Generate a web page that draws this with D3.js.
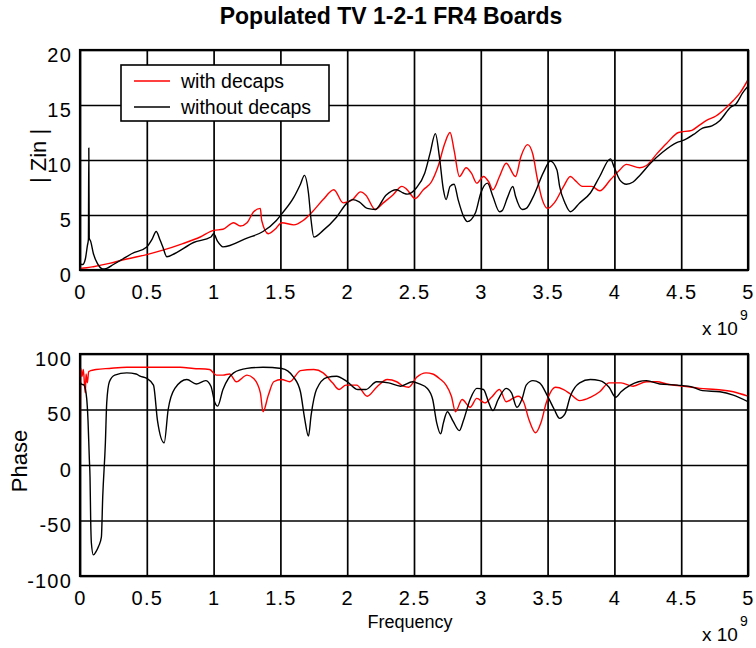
<!DOCTYPE html>
<html>
<head>
<meta charset="utf-8">
<script src="https://cdn.jsdelivr.net/npm/d3@7"></script>
<style>
  html, body { margin: 0; padding: 0; background: #fff; }
  svg { display: block; font-family: "Liberation Sans", Arial, Helvetica, sans-serif; }
</style>
</head>
<body>
<svg id="chart" width="756" height="648"></svg>
<script>
// Frequencies are in units of 1e9 Hz (the axes carry an "x 10^9" multiplier).
const xTicks = [0, 0.5, 1, 1.5, 2, 2.5, 3, 3.5, 4, 4.5, 5];
const zinTicks = [0, 5, 10, 15, 20];
const phaseTicks = [-100, -50, 0, 50, 100];
const seriesNames = ["with decaps", "without decaps"];
const seriesColors = ["#ff0000", "#000000"];

// |Zin| with decaps
const zinFreqWith = [0,0.05,0.1,0.22,0.35,0.5,0.62,0.77,0.9,1.0,1.07,1.15,1.2,1.25,1.3,1.35,1.36,1.41,1.46,1.51,1.6,1.67,1.74,1.82,1.9,1.97,2.04,2.1,2.14,2.21,2.27,2.34,2.41,2.44,2.51,2.57,2.63,2.68,2.73,2.77,2.8,2.84,2.89,2.93,2.97,3.02,3.06,3.09,3.14,3.19,3.26,3.3,3.35,3.39,3.42,3.46,3.5,3.55,3.62,3.67,3.71,3.76,3.83,3.89,3.97,4.04,4.09,4.19,4.24,4.32,4.39,4.48,4.58,4.64,4.69,4.76,4.84,4.89,4.94,5.0];
const zinWith = [0.15,0.2,0.3,0.6,1.0,1.4,1.8,2.4,3.0,3.6,3.7,4.3,4.0,4.3,5.3,5.6,4.5,3.3,3.7,4.3,4.1,4.5,5.3,6.4,7.3,6.1,6.4,7.1,6.8,5.5,6.1,6.8,7.6,7.4,6.5,7.3,8.0,9.4,11.5,12.5,10.9,8.5,9.3,8.8,7.9,8.5,8.0,7.3,8.5,9.7,8.5,10.3,11.4,10.5,8.5,6.4,5.6,6.1,7.6,8.5,8.1,7.6,7.6,7.2,8.2,9.1,9.6,9.3,9.5,10.6,11.5,12.5,12.7,13.2,13.6,14.0,14.8,15.4,16.1,17.3];

// |Zin| without decaps
const zinFreqWithout = [0,0.02,0.04,0.055,0.063,0.066,0.069,0.08,0.1,0.13,0.17,0.2,0.25,0.32,0.39,0.5,0.54,0.57,0.6,0.62,0.65,0.71,0.85,0.98,1.0,1.03,1.07,1.25,1.37,1.47,1.51,1.6,1.65,1.68,1.71,1.73,1.75,1.82,1.92,2.0,2.04,2.09,2.15,2.21,2.29,2.37,2.42,2.45,2.52,2.58,2.62,2.66,2.69,2.72,2.74,2.77,2.8,2.83,2.87,2.9,2.96,3.0,3.05,3.09,3.14,3.16,3.2,3.24,3.26,3.31,3.34,3.39,3.47,3.52,3.57,3.59,3.63,3.67,3.74,3.82,3.89,3.97,4.0,4.04,4.09,4.14,4.19,4.27,4.36,4.47,4.52,4.59,4.66,4.73,4.79,4.87,4.91,4.96,5.0];
const zinWithout = [0.55,0.5,1.0,2.2,2.8,11.1,2.9,2.6,1.5,0.6,0.1,0.15,0.5,1.0,1.5,2.1,2.8,3.5,2.7,2.1,1.2,1.5,2.5,3.0,3.3,2.6,2.1,2.9,3.5,4.5,5.1,6.6,7.8,8.6,7.0,4.5,3.0,3.6,4.8,6.1,6.4,6.2,5.6,5.5,6.8,7.3,7.0,6.9,7.5,8.8,10.6,12.4,10.3,7.3,6.4,7.6,7.8,6.4,4.9,4.4,5.2,7.0,7.9,6.7,5.3,5.4,6.6,7.6,6.7,5.5,5.6,6.6,8.9,9.9,9.1,7.6,6.1,5.3,6.1,7.0,8.5,10.1,9.3,8.2,7.8,8.0,8.6,9.7,10.7,11.6,11.8,12.3,12.9,13.1,13.6,14.8,15.1,16.1,16.7];

// Phase with decaps
const phaseFreqWith = [0,0.006,0.015,0.025,0.035,0.04,0.045,0.055,0.065,0.08,0.12,0.22,0.35,0.5,0.6,0.75,0.85,0.97,1.02,1.07,1.12,1.17,1.25,1.3,1.35,1.37,1.41,1.45,1.51,1.57,1.65,1.75,1.82,1.89,1.94,1.99,2.07,2.15,2.22,2.3,2.37,2.42,2.46,2.52,2.59,2.64,2.69,2.74,2.78,2.81,2.86,2.92,2.97,3.03,3.08,3.14,3.19,3.24,3.28,3.32,3.36,3.41,3.45,3.49,3.56,3.62,3.67,3.74,3.82,3.89,3.96,4.05,4.14,4.24,4.32,4.39,4.52,4.64,4.76,4.89,5.0];
const phaseWith = [-90,87,80,86,70,65,82,74,84,85,86,87,88,88,88,88,87,86,81,81,82,75,81,78,65,48,63,75,77,75,85,86,83,74,68,72,72,62,70,77,75,71,70,79,83,82,78,72,62,48,59,52,60,56,61,68,57,60,62,57,41,29,38,56,70,68,64,58,61,66,74,74,71,75,75,73,71,69,68,66,62];

// Phase without decaps
const phaseFreqWithout = [0,0.01,0.03,0.05,0.06,0.07,0.075,0.08,0.085,0.1,0.12,0.14,0.16,0.17,0.19,0.2,0.22,0.26,0.35,0.42,0.45,0.5,0.55,0.58,0.63,0.66,0.71,0.8,0.87,0.94,0.98,1.01,1.03,1.07,1.15,1.25,1.37,1.51,1.6,1.65,1.68,1.71,1.73,1.77,1.85,1.92,2.0,2.08,2.14,2.22,2.31,2.4,2.49,2.54,2.6,2.64,2.67,2.7,2.72,2.75,2.79,2.84,2.87,2.92,2.97,3.02,3.06,3.09,3.13,3.19,3.23,3.27,3.31,3.34,3.39,3.44,3.5,3.55,3.59,3.63,3.67,3.74,3.82,3.89,3.96,4.01,4.05,4.12,4.18,4.24,4.34,4.47,4.59,4.66,4.79,4.89,5.0];
const phaseWithout = [75,73,72,60,40,5,-11,-50,-70,-81,-78,-73,-65,-29,20,56,75,81,83,82,80,78,72,40,20,50,69,77,73,76,71,56,53,68,83,87,88,87,79,66,43,26,45,68,79,80,75,68,68,75,74,71,75,73,69,59,38,28,38,48,40,31,40,59,69,68,56,49,59,69,65,52,60,72,76,74,62,50,42,46,62,74,77,76,70,61,66,72,75,76,73,72,70,67,66,63,57];

const svg = d3.select("#chart");
const left = 80, right = 748;
const x = d3.scaleLinear().domain([0, 5]).range([left, right]);

const panels = [
  { top: 50, bottom: 270, domain: [0, 20], ticks: zinTicks, label: "| Zin |", labelX: 38,
    series: [[zinFreqWith, zinWith], [zinFreqWithout, zinWithout]] },
  { top: 354, bottom: 576, domain: [-100, 100], ticks: phaseTicks, label: "Phase", labelX: 19,
    series: [[phaseFreqWith, phaseWith], [phaseFreqWithout, phaseWithout]] }
];

panels.forEach((p, i) => {
  const y = d3.scaleLinear().domain(p.domain).range([p.bottom, p.top]);
  const h = p.bottom - p.top, w = right - left;
  const g = svg.append("g");

  // grid + tick labels
  const gx = g.append("g").attr("transform", `translate(0,${p.bottom})`)
    .call(d3.axisBottom(x).tickValues(xTicks).tickSize(-h).tickPadding(15).tickFormat(d => String(d)));
  const gy = g.append("g").attr("transform", `translate(${left},0)`)
    .call(d3.axisLeft(y).tickValues(p.ticks).tickSize(-w).tickPadding(8).tickFormat(d => String(d)));
  [gx, gy].forEach(a => {
    a.select(".domain").remove();
    a.selectAll(".tick line").attr("stroke", "#000").attr("stroke-width", 1.7);
    a.selectAll(".tick text").attr("fill", "#000").attr("font-size", 20)
      .attr("letter-spacing", "1.2px").attr("font-family", "Liberation Sans, Arial, sans-serif");
  });
  gy.selectAll(".tick text").attr("dy", "0.55em");

  // clipped data lines
  const clipId = "clip" + i;
  svg.append("clipPath").attr("id", clipId).append("rect")
    .attr("x", left).attr("y", p.top).attr("width", w).attr("height", h);
  const line = d3.line().curve(d3.curveMonotoneX).x(d => x(d[0])).y(d => y(d[1]));
  p.series.forEach((s, k) => {
    const pts = s[0].map((f, j) => [f, s[1][j]]);
    g.append("path").datum(pts)
      .attr("clip-path", `url(#${clipId})`)
      .attr("fill", "none").attr("stroke", seriesColors[k]).attr("stroke-width", 1.4)
      .attr("stroke-linejoin", "round")
      .attr("d", line);
  });

  // axes box
  g.append("rect").attr("x", left).attr("y", p.top).attr("width", w).attr("height", h)
    .attr("fill", "none").attr("stroke", "#000").attr("stroke-width", 2.2);

  // y label
  g.append("text").attr("transform", `translate(${p.labelX},${(p.top + p.bottom) / 2 - 4}) rotate(-90)`)
    .attr("text-anchor", "middle").attr("dominant-baseline", "central")
    .attr("font-size", 22).text(p.label);

  // x 10^9 multiplier
  g.append("text").attr("x", 702).attr("y", p.bottom + 65).attr("font-size", 19).text("x 10");
  g.append("text").attr("x", 740).attr("y", p.bottom + 50).attr("font-size", 14).text("9");
});

// x label for the lower panel
svg.append("text").attr("x", 410).attr("y", 628).attr("text-anchor", "middle")
  .attr("font-size", 18).text("Frequency");

// title
svg.append("text").attr("x", 391).attr("y", 24).attr("text-anchor", "middle")
  .attr("font-size", 23).attr("font-weight", "bold").text("Populated TV 1-2-1 FR4 Boards");

// legend
const lg = svg.append("g");
lg.append("rect").attr("x", 121).attr("y", 65).attr("width", 208).attr("height", 56)
  .attr("fill", "#fff").attr("stroke", "#000").attr("stroke-width", 1.6);
seriesNames.forEach((name, k) => {
  const ly = 81 + k * 26;
  lg.append("line").attr("x1", 134).attr("x2", 170).attr("y1", ly).attr("y2", ly)
    .attr("stroke", seriesColors[k]).attr("stroke-width", 1.4);
  lg.append("text").attr("x", 181).attr("y", ly + 7).attr("font-size", 19.5).text(name);
});
</script>
</body>
</html>
